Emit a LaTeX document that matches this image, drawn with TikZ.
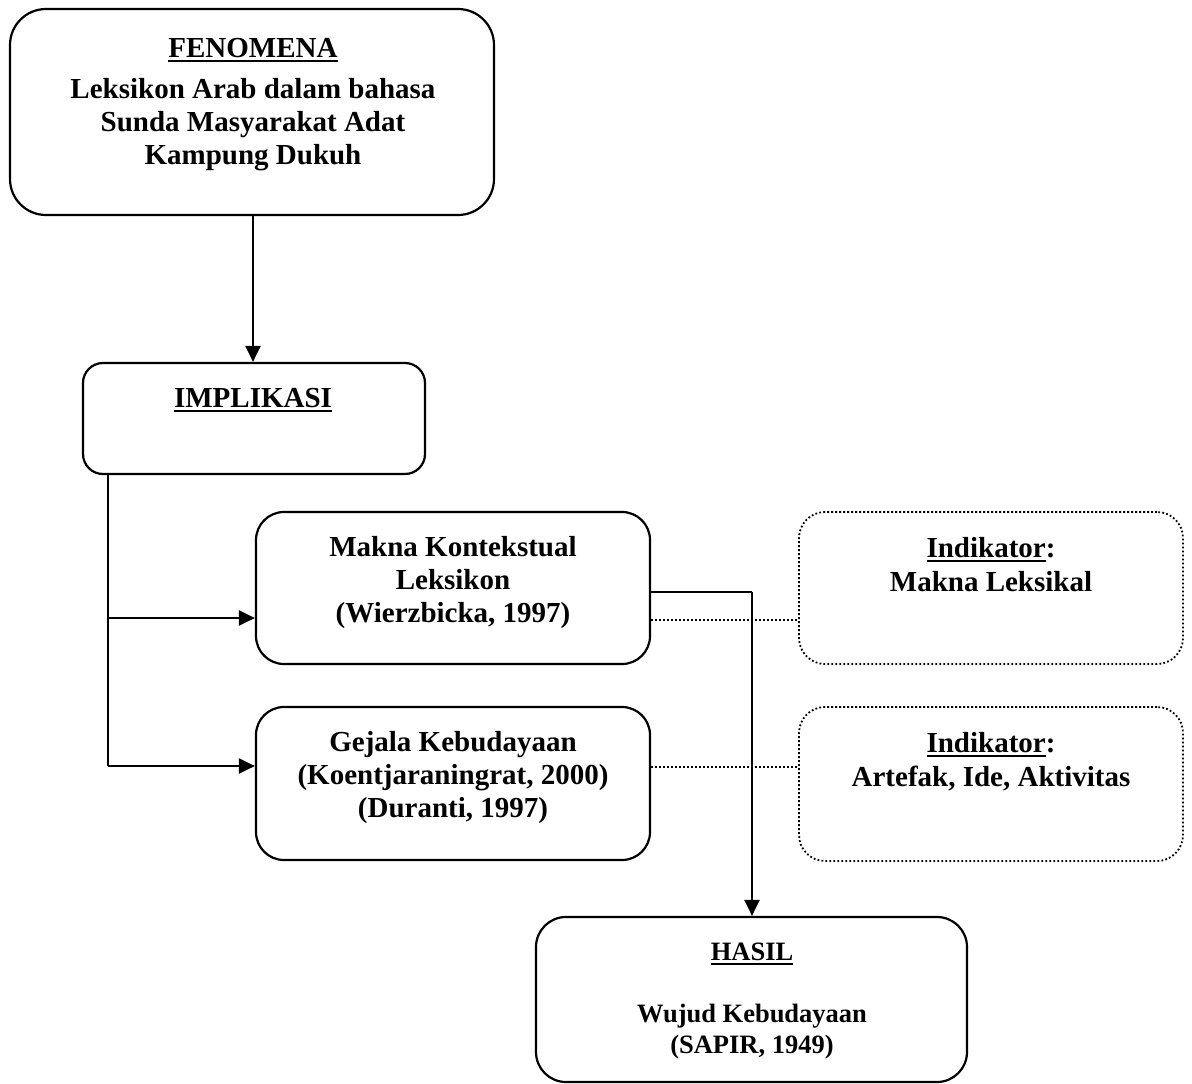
\documentclass[tikz,border=0pt]{standalone}
\usepackage{fontspec}
\setmainfont{Liberation Serif}
\usetikzlibrary{arrows.meta}
\newcommand{\myul}[1]{\setbox0\hbox{#1}\rlap{\rule[-5pt]{\wd0}{2pt}}\box0}
\begin{document}
\begin{tikzpicture}[x=1pt,y=-1pt,
  box/.style={draw, line width=2.2pt, inner sep=0pt},
  dotbox/.style={draw, line width=1.8pt, dash pattern=on 1.8pt off 2.2pt, inner sep=0pt},
  txt/.style={anchor=base, inner sep=0pt, font=\bfseries\fontsize{29}{33}\selectfont},
  stxt/.style={anchor=base, inner sep=0pt, font=\bfseries\fontsize{26.5}{31}\selectfont},
  arr/.style={line width=2.2pt, -{Triangle[length=16pt,width=15pt]}},
  ln/.style={line width=2.2pt},
  dotln/.style={line width=1.8pt, dash pattern=on 1.8pt off 2.2pt}]
\useasboundingbox (0,0) rectangle (1192,1084);

% boxes
\node[box, rounded corners=36pt, minimum width=484pt, minimum height=206pt] (fen) at (252,112) {};
\node[box, rounded corners=20pt, minimum width=342pt, minimum height=111pt] (imp) at (254,418.5) {};
\node[box, rounded corners=28pt, minimum width=394pt, minimum height=152pt] (mak) at (453,588) {};
\node[box, rounded corners=28pt, minimum width=394pt, minimum height=153pt] (gej) at (453,783.5) {};
\node[dotbox, rounded corners=26pt, minimum width=384pt, minimum height=152pt] (ind1) at (991,588) {};
\node[dotbox, rounded corners=26pt, minimum width=384pt, minimum height=154pt] (ind2) at (991,784) {};
\node[box, rounded corners=30pt, minimum width=431pt, minimum height=165pt] (has) at (751.5,999.5) {};

% texts
\node[txt] (fen0) at (253,57) {\myul{FENOMENA}};
\node[txt] (fen1) at (253,98) {Leksikon Arab dalam bahasa};
\node[txt] (fen2) at (253,131) {Sunda Masyarakat Adat};
\node[txt] (fen3) at (253,164) {Kampung Dukuh};

\node[txt] (imp0) at (253,407) {\myul{IMPLIKASI}};

\node[txt] (mak1) at (453,556) {Makna Kontekstual};
\node[txt] (mak2) at (453,589) {Leksikon};
\node[txt] (mak3) at (453,622) {(Wierzbicka, 1997)};

\node[txt] (gej1) at (453,751) {Gejala Kebudayaan};
\node[txt] (gej2) at (453,784) {(Koentjaraningrat, 2000)};
\node[txt] (gej3) at (453,817) {(Duranti, 1997)};

\node[txt] (ind1a) at (991,557) {\myul{Indikator}:};
\node[txt] (ind1b) at (991,591) {Makna Leksikal};

\node[txt] (ind2a) at (991,752) {\myul{Indikator}:};
\node[txt] (ind2b) at (991,786) {Artefak, Ide, Aktivitas};

\node[stxt] (has0) at (752,960) {\myul{HASIL}};
\node[stxt] (has1) at (752,1022) {Wujud Kebudayaan};
\node[stxt] (has2) at (752,1053) {(SAPIR, 1949)};

% connectors
\coordinate (f1) at (253,0);
\draw[arr] (fen.south -| f1) -- (imp.north -| f1);

\coordinate (b1) at (108,618);
\coordinate (b2) at (108,766);
\draw[ln] (imp.south -| b1) -- (b2);
\draw[arr] (b1) -- (b1 -| mak.west);
\draw[arr] (b2) -- (b2 -| gej.west);

\coordinate (c1) at (752,592);
\draw[ln] (c1 -| mak.east) -- (c1);
\draw[arr] (c1) -- (c1 |- has.north);

\coordinate (d1) at (0,620);
\coordinate (d2) at (0,767);
\draw[dotln] (d1 -| mak.east) -- (d1 -| ind1.west);
\draw[dotln] (d2 -| gej.east) -- (d2 -| ind2.west);
\end{tikzpicture}
\end{document}
